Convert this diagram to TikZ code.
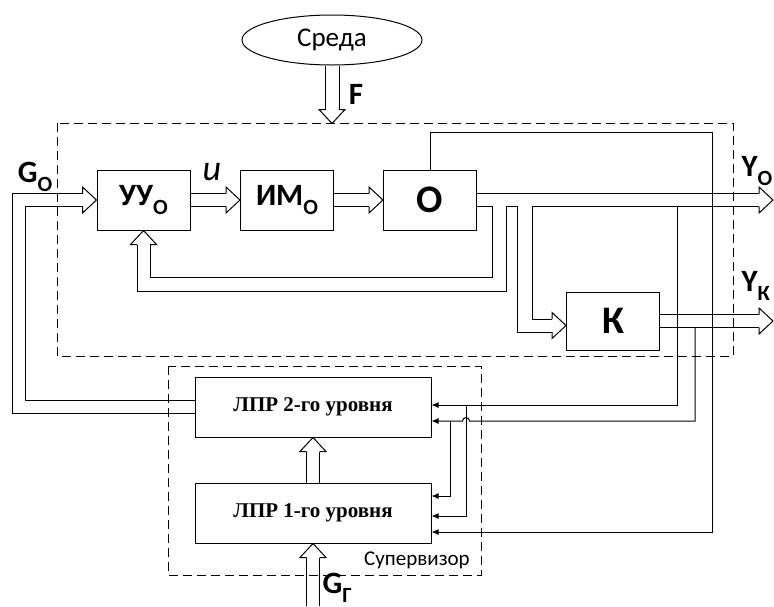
\documentclass[tikz,border=0pt]{standalone}
\usepackage{fontspec}
\setmainfont{Carlito}
\newfontfamily\lprfont{Liberation Serif}
\usepackage{graphicx}
\usetikzlibrary{arrows.meta,positioning,calc,shapes.geometric}
\newcommand{\lowidx}[1]{\raisebox{-0.27em}{\scalebox{0.7}{#1}}}

\begin{document}
\begin{tikzpicture}[x=1pt,y=-1pt,line width=1pt,
    blk/.style={draw,rectangle,minimum width=93pt,minimum height=60pt,inner sep=0pt,font=\fontsize{31}{34}\selectfont\bfseries},
    big/.style={font=\fontsize{39}{42}\selectfont\bfseries},
    lpr/.style={draw,rectangle,minimum width=236pt,minimum height=60pt,inner sep=0pt,font=\lprfont\fontsize{21}{24}\selectfont\bfseries},
    zone/.style={draw,dash pattern=on 9pt off 5pt},
    arr/.style={-{Latex[length=7pt,width=6pt]}},
    lbl/.style={font=\fontsize{31}{34}\selectfont\bfseries,inner sep=0pt},
    hd/.pic={\draw (-14,-6.5) -- (-14,-13) -- (0,0) -- (-14,13) -- (-14,6.5);}]
  \useasboundingbox (0,0) rectangle (774,606);

  % blocks
  \node[ellipse,draw,minimum width=180pt,minimum height=50pt,font=\fontsize{27}{30}\selectfont] (sreda) at (332,40) {Среда};
  \node[blk] (uu) at (143.5,200) {УУ\lowidx{О}};
  \node[blk] (im) at (287,200) {ИМ\lowidx{О}};
  \node[blk,big] (ob) at (430,200) {О};
  \node[blk,big,minimum height=58pt] (kk) at (613,321) {К};
  \node[lpr] (lpr2) at (313,407) {ЛПР 2-го уровня};
  \node[lpr] (lpr1) at (313,513) {ЛПР 1-го уровня};

  % dashed zones
  \draw[zone] (57,123) rectangle (733,356);
  \draw[zone] (168,366) rectangle (481,575);

  \coordinate (ftip) at ($(sreda.south)+(0,58)$);
  \coordinate (kin) at ($(kk.west)+(0,4.5)$);
  \coordinate (yo) at (773,200);
  \coordinate (yk) at (773,321);
  \coordinate (gin) at (313,606);

  % wide arrows
  \foreach \d in {-7,7}
    \draw ($(sreda.south)+(\d,0)$) -- ($(ftip)+(\d,-14)$);
  \pic[rotate=-90] at (ftip) {hd};
  \foreach \d in {-6.5,6.5} {
    \draw ($(uu.east)+(0,\d)$) -- ($(im.west)+(-14,\d)$);
    \draw ($(im.east)+(0,\d)$) -- ($(ob.west)+(-14,\d)$);
    \draw ($(kk.east)+(0,\d)$) -- ($(yk)+(-14,\d)$);
    \draw ($(lpr1.north)+(\d,0)$) -- ($(lpr2.south)+(\d,14)$);
    \draw ($(gin)+(\d,0)$) -- ($(lpr1.south)+(\d,14)$);
  }
  \pic at (im.west) {hd};
  \pic at (ob.west) {hd};
  \pic at (yk) {hd};
  \pic[rotate=90] at (lpr2.south) {hd};
  \pic[rotate=90] at (lpr1.south) {hd};

  % G_O from lpr2
  \draw ($(lpr2.west)+(0,6.5)$) -| (12,193.5) -- ($(uu.west)+(-14,-6.5)$);
  \draw ($(lpr2.west)+(0,-6.5)$) -| (25.5,206.5) -- ($(uu.west)+(-14,6.5)$);
  \pic at (uu.west) {hd};

  % outputs of O
  \draw ($(ob.east)+(0,-6.5)$) -- ($(yo)+(-14,-6.5)$);
  \draw (532,206.5) -- ($(yo)+(-14,6.5)$);
  \pic at (yo) {hd};
  \draw ($(ob.east)+(0,6.5)$) -- (492,206.5) -- (492,277) -| ($(uu.south)+(6.5,14)$);
  \draw ($(uu.south)+(-6.5,14)$) |- (506,291) -- (506,206.5) -- (517,206.5) |- ($(kin)+(-14,6.5)$);
  \draw (532,206.5) |- ($(kin)+(-14,-6.5)$);
  \pic[rotate=90] at (uu.south) {hd};
  \pic at (kin) {hd};

  % signals to supervisor
  \draw[arr] (ob.north) -- ++(0,-37) -| (712,532) -- ($(lpr1.east)+(0,19)$);
  \draw[arr] (677,206.5) |- ($(lpr2.east)+(0,-2)$);
  \draw[arr] (695,327.5) |- (469.5,421) arc[start angle=0,end angle=-180,radius=3.5] -- ($(lpr2.east)+(0,14)$);
  \draw[arr] (466,405) |- ($(lpr1.east)+(0,3)$);
  \draw[arr] (450,421) |- ($(lpr1.east)+(0,-17)$);

  % labels
  \node[lbl] (go) at (35,177) {G\lowidx{О}};
  \node[lbl,anchor=west] (yol) at (741,171) {Y\lowidx{О}};
  \node[lbl,anchor=west] (ykl) at (741,286) {Y\lowidx{К}};
  \node[lbl] (fl) at (356,94) {F};
  \node[lbl,anchor=north west] (ggl) at (322,573) {G\lowidx{Г}};
  \node[font=\fontsize{36}{40}\selectfont\itshape] (ul) at (212,172) {u};
  \node[font=\fontsize{21}{24}\selectfont] (sup) at (417,560) {Супервизор};
\end{tikzpicture}
\end{document}
